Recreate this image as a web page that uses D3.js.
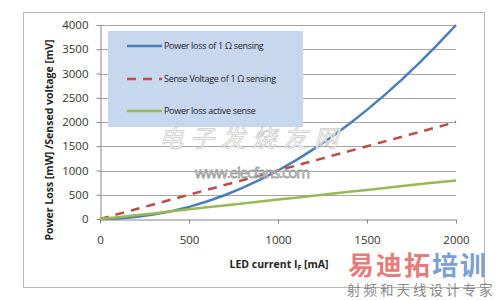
<!DOCTYPE html>
<html>
<head>
<meta charset="utf-8">
<script src="https://cdn.jsdelivr.net/npm/d3@7"></script>
<style>
  body { margin: 0; background: #fff; }
  svg { display: block; font-family: "Open Sans", Lato, sans-serif; }
</style>
</head>
<body>
<script>
// values
const currents = [0, 100, 200, 300, 400, 500, 600, 700, 800, 900, 1000, 1100, 1200, 1300, 1400, 1500, 1600, 1700, 1800, 1900, 2000];
const powerLossSensing = [0, 10, 40, 90, 160, 250, 360, 490, 640, 810, 1000, 1210, 1440, 1690, 1960, 2250, 2560, 2890, 3240, 3610, 4000];
const senseVoltage = [0, 100, 200, 300, 400, 500, 600, 700, 800, 900, 1000, 1100, 1200, 1300, 1400, 1500, 1600, 1700, 1800, 1900, 2000];
const powerLossActive = [0, 35, 75, 115, 160, 200, 240, 280, 320, 360, 400, 440, 480, 520, 560, 600, 640, 680, 720, 760, 795];
const xTicks = [0, 500, 1000, 1500, 2000];
const yTicks = [0, 500, 1000, 1500, 2000, 2500, 3000, 3500, 4000];
const seriesNames = ["Power loss of 1 \u03A9 sensing", "Sense Voltage of 1 \u03A9 sensing", "Power loss active sense"];

const W = 500, H = 300;
const svg = d3.select("body").append("svg").attr("width", W).attr("height", H);

// chart frame
svg.append("rect")
    .attr("x", 23.5).attr("y", 12.5)
    .attr("width", 461).attr("height", 275)
    .attr("fill", "#fff").attr("stroke", "#b8b8b8");

const x = d3.scaleLinear().domain([0, 2000]).range([100, 456]);
const y = d3.scaleLinear().domain([0, 4000]).range([219, 25]);

// gridlines
svg.append("g").selectAll("line")
    .data(yTicks.filter(d => d > 0))
    .enter().append("line")
    .attr("x1", x(0)).attr("x2", x(2000))
    .attr("y1", d => Math.round(y(d)) + 0.5).attr("y2", d => Math.round(y(d)) + 0.5)
    .attr("stroke", "#a6a6a6");

// axes
const xAxis = svg.append("g")
    .attr("transform", `translate(0,${Math.round(y(0)) + 0.5})`)
    .call(d3.axisBottom(x).tickValues(xTicks).tickFormat(d3.format("d")).tickSize(4).tickPadding(12).tickSizeOuter(0));
const yAxis = svg.append("g")
    .attr("transform", `translate(${x(0) + 0.5},0)`)
    .call(d3.axisLeft(y).tickValues(yTicks).tickFormat(d3.format("d")).tickSize(4).tickPadding(8).tickSizeOuter(0));
[xAxis, yAxis].forEach(a => {
    a.select(".domain").attr("stroke", "#868686");
    a.selectAll(".tick line").attr("stroke", "#868686");
    a.selectAll("text").attr("font-size", 11.5).attr("fill", "#333").attr("font-family", "'Open Sans', sans-serif");
});

// legend box (drawn under the lines)
svg.append("rect")
    .attr("x", 108).attr("y", 31)
    .attr("width", 195).attr("height", 96)
    .attr("fill", "#c6d7ee");

// series
const colors = ["#4a7ebb", "#be4b48", "#98b954"];
const dashes = [null, "9,7", null];
const allSeries = [powerLossSensing, senseVoltage, powerLossActive];
const line = d3.line().x((d, i) => x(currents[i])).y(d => y(d));

svg.append("g").selectAll("path")
    .data(allSeries)
    .enter().append("path")
    .attr("d", line)
    .attr("fill", "none")
    .attr("stroke", (d, i) => colors[i])
    .attr("stroke-width", 2.5)
    .attr("stroke-dasharray", (d, i) => dashes[i]);

// legend entries
const legendY = [46, 79, 111];
const leg = svg.append("g").selectAll("g")
    .data(seriesNames)
    .enter().append("g")
    .attr("transform", (d, i) => `translate(127,${legendY[i]})`);
leg.append("line")
    .attr("x1", 0).attr("x2", 35)
    .attr("stroke", (d, i) => colors[i])
    .attr("stroke-width", 2.5)
    .attr("stroke-dasharray", (d, i) => dashes[i]);
leg.append("text")
    .attr("x", 37).attr("dy", "0.35em")
    .attr("font-size", 9).attr("fill", "#222")
    .attr("font-family", "'Open Sans', sans-serif").attr("letter-spacing", -0.3)
    .text(d => d);

// axis titles
svg.append("text")
    .attr("x", 279).attr("y", 268)
    .attr("text-anchor", "middle")
    .attr("font-size", 10.5).attr("font-weight", "bold").attr("fill", "#222")
    .html('LED current I<tspan font-size="7" dy="2">F</tspan><tspan dy="-2"> [mA]</tspan>');

svg.append("text")
    .attr("transform", "translate(53,140) rotate(-90)")
    .attr("text-anchor", "middle")
    .attr("font-size", 10.5).attr("font-weight", "bold").attr("fill", "#222")
    .text("Power Loss [mW] /Sensed voltage [mV]");

// watermarks
svg.append("text")
    .attr("x", 252).attr("y", 147)
    .attr("text-anchor", "middle")
    .attr("font-family", "Noto Sans CJK SC").attr("font-style", "italic")
    .attr("font-size", 24).attr("letter-spacing", 7)
    .attr("fill", "#fff").attr("stroke", "#c8c8c8").attr("stroke-width", 0.8)
    .attr("opacity", 0.9)
    .text("电子发烧友网");
svg.append("text")
    .attr("x", 252).attr("y", 178)
    .attr("text-anchor", "middle")
    .attr("font-size", 15).attr("letter-spacing", -1)
    .attr("fill", "#fff").attr("stroke", "#999").attr("stroke-width", 0.8)
    .text("www.elecfans.com");
svg.append("text")
    .attr("x", 348).attr("y", 275)
    .attr("font-family", "Noto Sans CJK SC").attr("font-weight", "bold")
    .attr("font-size", 26).attr("letter-spacing", 2)
    .html('<tspan fill="#e77b7b">易迪拓</tspan><tspan fill="#7b9fd6">培训</tspan>');
svg.append("text")
    .attr("x", 347).attr("y", 295)
    .attr("font-family", "Noto Sans CJK SC")
    .attr("font-size", 13.5).attr("letter-spacing", 3).attr("fill", "#888")
    .text("射频和天线设计专家");
</script>
</body>
</html>
